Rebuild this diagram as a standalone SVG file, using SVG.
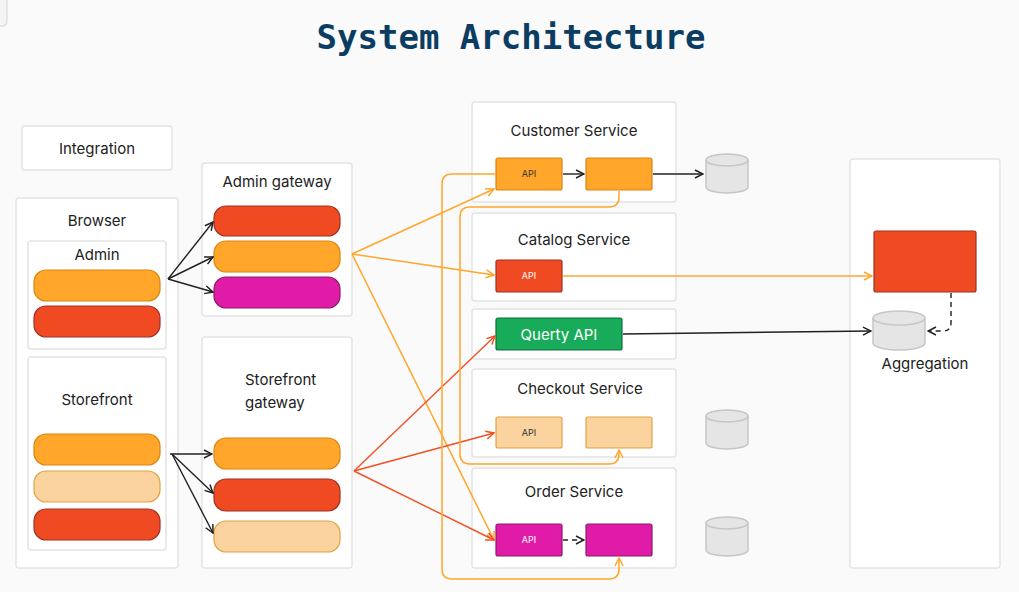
<svg xmlns="http://www.w3.org/2000/svg" width="1019" height="592" viewBox="0 0 1019 592">
<style>
  .bg{fill:#fafafa}
  .box{fill:#ffffff;stroke:#e4e4e4;stroke-width:1.5}
  .lbl{font-family:Inter,"Noto Sans","Liberation Sans",sans-serif;font-size:15px;fill:#222222;text-anchor:middle}
  .api{font-family:Inter,"Noto Sans","Liberation Sans",sans-serif;font-size:9px;fill:#333333;text-anchor:middle}
  .apiw{fill:#ffffff}
  .orange{fill:#ffa62b;stroke:#d9850f;stroke-width:1.2}
  .red{fill:#f04a22;stroke:#9e3322;stroke-width:1.2}
  .mag{fill:#df1ba7;stroke:#8c1a6c;stroke-width:1.2}
  .peach{fill:#fbd39e;stroke:#e0a244;stroke-width:1.2}
  .green{fill:#18ab59;stroke:#0f6e3a;stroke-width:1.2}
  .db{fill:#e5e5e5;stroke:#c6c6c6;stroke-width:1.5}
  .cb{fill:none;stroke:#222222;stroke-width:1.4}
  .co{fill:none;stroke:#ffa62b;stroke-width:1.5}
  .cr{fill:none;stroke:#f25022;stroke-width:1.4}
  .dash{stroke-dasharray:5 4}
</style>
<defs>
  <marker id="ab" viewBox="0 0 10 10" refX="9" refY="5" markerWidth="10" markerHeight="10" markerUnits="userSpaceOnUse" orient="auto">
    <path d="M1,1 L9,5 L1,9" fill="none" stroke="#222222" stroke-width="1.5"/>
  </marker>
  <marker id="ao" viewBox="0 0 10 10" refX="9" refY="5" markerWidth="10" markerHeight="10" markerUnits="userSpaceOnUse" orient="auto">
    <path d="M1,1 L9,5 L1,9" fill="none" stroke="#ffa62b" stroke-width="1.5"/>
  </marker>
  <marker id="ar" viewBox="0 0 10 10" refX="9" refY="5" markerWidth="10" markerHeight="10" markerUnits="userSpaceOnUse" orient="auto">
    <path d="M1,1 L9,5 L1,9" fill="none" stroke="#f25022" stroke-width="1.5"/>
  </marker>
</defs>
<rect class="bg" x="0" y="0" width="1019" height="592"/>
<rect x="-10" y="-8" width="17" height="34" rx="4" fill="#f4f4f4" stroke="#d6d6d6" stroke-width="1"/>

<text x="511" y="49" font-family="'DejaVu Sans Mono','Liberation Mono',monospace" font-size="34" font-weight="bold" fill="#0b3d62" text-anchor="middle">System Architecture</text>

<g id="integration">
  <rect class="box" x="22" y="126" width="150" height="44" rx="3"/>
  <text class="lbl" x="97" y="154">Integration</text>
</g>

<g id="browser">
  <rect class="box" x="16" y="198" width="162" height="370" rx="3"/>
  <text class="lbl" x="97" y="226">Browser</text>
</g>

<g id="admin">
  <rect class="box" x="28" y="241" width="138" height="108" rx="3"/>
  <text class="lbl" x="97" y="260">Admin</text>
  <rect class="orange" x="34" y="270" width="126" height="31" rx="12"/>
  <rect class="red" x="34" y="306" width="126" height="31" rx="12"/>
</g>

<g id="storefront">
  <rect class="box" x="28" y="357" width="138" height="193" rx="3"/>
  <text class="lbl" x="97" y="405">Storefront</text>
  <rect class="orange" x="34" y="434" width="126" height="31" rx="12"/>
  <rect class="peach" x="34" y="471" width="126" height="31" rx="12"/>
  <rect class="red" x="34" y="509" width="126" height="31" rx="12"/>
</g>

<g id="admin-gateway">
  <rect class="box" x="202" y="163" width="150" height="153" rx="3"/>
  <text class="lbl" x="277" y="187">Admin gateway</text>
  <rect class="red" x="214" y="206" width="126" height="30" rx="12"/>
  <rect class="orange" x="214" y="241" width="126" height="31" rx="12"/>
  <rect class="mag" x="214" y="277" width="126" height="31" rx="12"/>
</g>

<g id="storefront-gateway">
  <rect class="box" x="202" y="337" width="150" height="231" rx="3"/>
  <text class="lbl" x="245" y="385" style="text-anchor:start">Storefront</text>
  <text class="lbl" x="245" y="408" style="text-anchor:start">gateway</text>
  <rect class="orange" x="214" y="438" width="126" height="31" rx="12"/>
  <rect class="red" x="214" y="479" width="126" height="32" rx="12"/>
  <rect class="peach" x="214" y="521" width="126" height="31" rx="12"/>
</g>

<g id="customer-service">
  <rect class="box" x="472" y="102" width="204" height="100" rx="3"/>
  <text class="lbl" x="574" y="136">Customer Service</text>
  <rect class="orange" x="496" y="158" width="66" height="32" rx="2"/>
  <text class="api" x="529" y="177">API</text>
  <rect class="orange" x="586" y="158" width="66" height="32" rx="2"/>
</g>

<g id="catalog-service">
  <rect class="box" x="472" y="213" width="204" height="88" rx="3"/>
  <text class="lbl" x="574" y="245">Catalog Service</text>
  <rect class="red" x="496" y="260" width="66" height="32" rx="2"/>
  <text class="api apiw" x="529" y="279">API</text>
</g>

<g id="query">
  <rect class="box" x="472" y="309" width="204" height="50" rx="3"/>
  <rect class="green" x="496" y="318" width="126" height="32" rx="2"/>
  <text class="lbl" x="559" y="340" style="fill:#ffffff">Querty API</text>
</g>

<g id="checkout-service">
  <rect class="box" x="472" y="369" width="204" height="88" rx="3"/>
  <text class="lbl" x="580" y="394">Checkout Service</text>
  <rect class="peach" x="496" y="417" width="66" height="31" rx="2"/>
  <text class="api" x="529" y="436">API</text>
  <rect class="peach" x="586" y="417" width="66" height="31" rx="2"/>
</g>

<g id="order-service">
  <rect class="box" x="472" y="468" width="204" height="100" rx="3"/>
  <text class="lbl" x="574" y="497">Order Service</text>
  <rect class="mag" x="496" y="524" width="66" height="32" rx="2"/>
  <text class="api apiw" x="529" y="543">API</text>
  <rect class="mag" x="586" y="524" width="66" height="32" rx="2"/>
</g>

<g id="customer-db">
  <path class="db" d="M706,160 V187 A21,6 0 0 0 748,187 V160"/>
  <ellipse class="db" cx="727" cy="160" rx="21" ry="6"/>
</g>
<g id="checkout-db">
  <path class="db" d="M706,416 V443 A21,6 0 0 0 748,443 V416"/>
  <ellipse class="db" cx="727" cy="416" rx="21" ry="6"/>
</g>
<g id="order-db">
  <path class="db" d="M706,523 V550 A21,6 0 0 0 748,550 V523"/>
  <ellipse class="db" cx="727" cy="523" rx="21" ry="6"/>
</g>

<g id="aggregation">
  <rect class="box" x="850" y="159" width="150" height="409" rx="3"/>
  <rect class="red" x="874" y="231" width="102" height="61" rx="2"/>
  <path class="db" d="M873,318 V343 A26,7 0 0 0 925,343 V318"/>
  <ellipse class="db" cx="899" cy="318" rx="26" ry="7"/>
  <text class="lbl" x="925" y="369">Aggregation</text>
</g>

<g id="connectors">
  <!-- browser to gateways -->
  <line class="cb" x1="168" y1="279" x2="213" y2="222" marker-end="url(#ab)"/>
  <line class="cb" x1="168" y1="279" x2="213" y2="257" marker-end="url(#ab)"/>
  <line class="cb" x1="168" y1="279" x2="213" y2="292" marker-end="url(#ab)"/>
  <line class="cb" x1="170" y1="454" x2="212" y2="454" marker-end="url(#ab)"/>
  <line class="cb" x1="172" y1="454" x2="213" y2="493" marker-end="url(#ab)"/>
  <line class="cb" x1="172" y1="454" x2="213" y2="533" marker-end="url(#ab)"/>
  <!-- admin gateway to services -->
  <line class="co" x1="352" y1="254" x2="494" y2="189" marker-end="url(#ao)"/>
  <line class="co" x1="352" y1="254" x2="494" y2="275" marker-end="url(#ao)"/>
  <line class="co" x1="352" y1="254" x2="494" y2="540" marker-end="url(#ao)"/>
  <!-- storefront gateway to services -->
  <line class="cr" x1="354" y1="471" x2="495" y2="336" marker-end="url(#ar)"/>
  <line class="cr" x1="354" y1="471" x2="494" y2="433" marker-end="url(#ar)"/>
  <line class="cr" x1="354" y1="471" x2="494" y2="540" marker-end="url(#ar)"/>
  <!-- internal -->
  <line class="cb" x1="563" y1="174" x2="584" y2="174" marker-end="url(#ab)"/>
  <line class="cb" x1="653" y1="174" x2="703" y2="174" marker-end="url(#ab)"/>
  <line class="cb dash" x1="563" y1="540" x2="584" y2="540" marker-end="url(#ab)"/>
  <!-- routed orange -->
  <path class="co" d="M495,174 H452 Q442,174 442,184 V569 Q442,579 452,579 H609 Q619,579 619,569 V558" marker-end="url(#ao)"/>
  <path class="co" d="M619,191 V197 Q619,207 609,207 H470 Q460,207 460,217 V454 Q460,464 470,464 H609 Q619,464 619,454 V450" marker-end="url(#ao)"/>
  <!-- to aggregation -->
  <line class="co" x1="563" y1="276" x2="872" y2="276" marker-end="url(#ao)"/>
  <line class="cb" x1="623" y1="334" x2="871" y2="331" marker-end="url(#ab)"/>
  <path class="cb dash" d="M951,293 V323 Q951,331 943,331 H928" marker-end="url(#ab)"/>
</g>
</svg>
